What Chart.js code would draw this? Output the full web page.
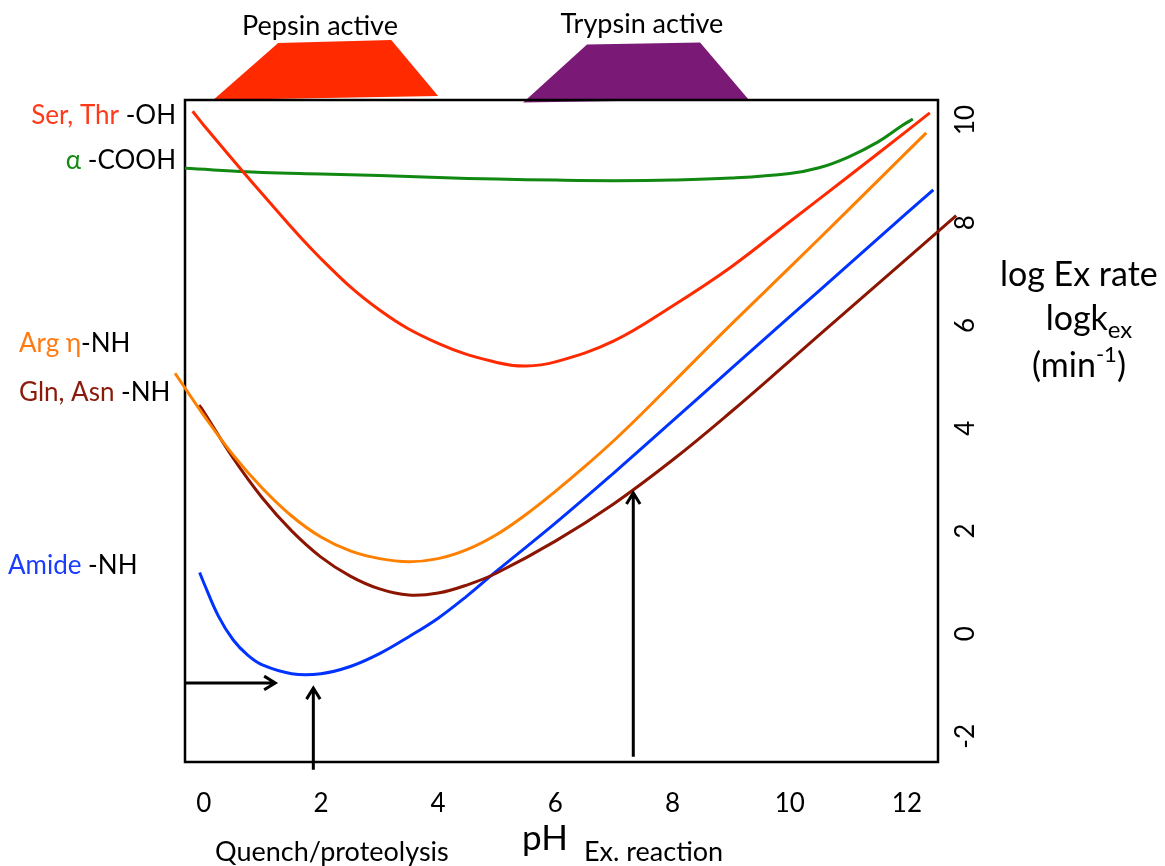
<!DOCTYPE html>
<html>
<head>
<meta charset="utf-8">
<script src="https://cdn.jsdelivr.net/npm/chart.js@4.4.1/dist/chart.umd.min.js"></script>
<style>
  html, body { margin: 0; padding: 0; background: #fff; }
  #wrap { width: 1165px; height: 866px; position: relative; }
</style>
</head>
<body>
<div id="wrap"><canvas id="c"></canvas></div>
<script>
// Axis ticks
const phTicks = [0, 2, 4, 6, 8, 10, 12];
const rateTicks = [10, 8, 6, 4, 2, 0, -2];

// Exchange-rate curves: pH vs log k_ex (min^-1)
const serThrPH   = [-0.19, 0, 1, 2, 3, 4, 5, 5.5, 6, 7, 8, 9, 10, 11, 12, 12.39];
const serThrRate = [10.17, 9.90, 8.56, 7.30, 6.30, 5.65, 5.28, 5.21, 5.29, 5.70, 6.38, 7.14, 8.02, 8.90, 9.79, 10.14];

const cooHPH   = [-0.32, 1, 2, 3, 4, 5, 6, 7, 8, 9, 10, 10.5, 11, 11.5, 11.9, 12.1];
const cooHRate = [9.06, 8.98, 8.95, 8.92, 8.88, 8.85, 8.83, 8.82, 8.83, 8.87, 8.96, 9.07, 9.28, 9.57, 9.88, 10.02];

const argPH   = [-0.49, 0, 0.5, 1, 1.5, 2, 2.5, 3, 3.5, 4, 4.5, 5, 5.5, 6, 6.5, 7, 7.5, 8, 9, 10, 11, 12, 12.33];
const argRate = [5.07, 4.25, 3.48, 2.83, 2.29, 1.88, 1.61, 1.46, 1.40, 1.46, 1.64, 1.93, 2.32, 2.77, 3.25, 3.76, 4.31, 4.88, 6.02, 7.13, 8.25, 9.38, 9.75];

const glnAsnPH   = [-0.08, 0, 0.5, 1, 1.5, 2, 2.5, 3, 3.5, 4, 4.5, 5, 6, 7, 8, 9, 10, 11, 12, 12.84];
const glnAsnRate = [4.45, 4.32, 3.42, 2.64, 2.00, 1.49, 1.12, 0.87, 0.75, 0.79, 0.95, 1.18, 1.80, 2.53, 3.38, 4.32, 5.31, 6.31, 7.30, 8.14];

const amidePH   = [-0.07, 0, 0.25, 0.5, 0.75, 1, 1.5, 2, 2.5, 3, 3.5, 4, 4.5, 5, 6, 7, 8, 9, 10, 11, 12, 12.45];
const amideRate = [1.19, 0.99, 0.34, -0.12, -0.42, -0.61, -0.78, -0.78, -0.64, -0.39, -0.06, 0.30, 0.74, 1.22, 2.15, 3.13, 4.14, 5.16, 6.17, 7.18, 8.19, 8.64];

// Enzyme activity windows (trapezoid corners, pH / log k)
const pepsinPH   = [0.16, 1.27, 3.20, 4.00];
const pepsinRate = [10.39, 11.50, 11.56, 10.47];
const trypsinPH   = [5.45, 6.54, 8.47, 9.29];
const trypsinRate = [10.34, 11.47, 11.51, 10.41];

// Arrows: [pH start, rate start, pH end, rate end]
const quenchLevel = [-0.32, -0.96, 1.22, -0.96];
const quenchPH    = [1.87, -2.65, 1.87, -1.06];
const reactionPH  = [7.33, -2.40, 7.33, 2.74];

const FONT = 'Lato, "Open Sans", sans-serif';

function pts(xs, ys) { return xs.map((x, i) => ({ x: x, y: ys[i] })); }

function series(label, xs, ys, color) {
  return {
    label: label,
    data: pts(xs, ys),
    borderColor: color,
    backgroundColor: color,
    borderWidth: 3,
    pointRadius: 0,
    tension: 0.4,
    fill: false,
    clip: false
  };
}

function drawMixed(ctx, parts, x, y, align) {
  let total = 0;
  parts.forEach(p => { total += ctx.measureText(p[0]).width; });
  let cx = align === 'right' ? x - total : (align === 'center' ? x - total / 2 : x);
  ctx.textAlign = 'left';
  parts.forEach(p => {
    ctx.fillStyle = p[1];
    ctx.fillText(p[0], cx, y);
    cx += ctx.measureText(p[0]).width;
  });
}

function arrow(ctx, xs, ys, a) {
  const x1 = xs.getPixelForValue(a[0]), y1 = ys.getPixelForValue(a[1]);
  const x2 = xs.getPixelForValue(a[2]), y2 = ys.getPixelForValue(a[3]);
  const ang = Math.atan2(y2 - y1, x2 - x1);
  const len = 13, spread = 0.55;
  ctx.beginPath();
  ctx.moveTo(x1, y1);
  ctx.lineTo(x2, y2);
  ctx.moveTo(x2 - len * Math.cos(ang - spread), y2 - len * Math.sin(ang - spread));
  ctx.lineTo(x2, y2);
  ctx.lineTo(x2 - len * Math.cos(ang + spread), y2 - len * Math.sin(ang + spread));
  ctx.stroke();
}

function trapezoid(ctx, xs, ys, phs, rates, color) {
  ctx.beginPath();
  phs.forEach((p, i) => {
    const px = xs.getPixelForValue(p), py = ys.getPixelForValue(rates[i]);
    if (i === 0) ctx.moveTo(px, py); else ctx.lineTo(px, py);
  });
  ctx.closePath();
  ctx.fillStyle = color;
  ctx.fill();
}

const decorations = {
  id: 'decorations',
  beforeDatasetsDraw(chart) {
    const { ctx, chartArea: a, scales } = chart;
    const xs = scales.x, ys = scales.y;
    ctx.save();
    // Enzyme windows above the frame
    trapezoid(ctx, xs, ys, pepsinPH, pepsinRate, '#ff2a00');
    trapezoid(ctx, xs, ys, trypsinPH, trypsinRate, '#7a1a76');
    // Frame
    ctx.strokeStyle = '#000';
    ctx.lineWidth = 2.5;
    ctx.strokeRect(a.left, a.top, a.right - a.left, a.bottom - a.top);
    ctx.restore();
  },
  afterDatasetsDraw(chart) {
    const { ctx, scales } = chart;
    const xs = scales.x, ys = scales.y;
    ctx.save();
    // Arrows
    ctx.strokeStyle = '#000';
    ctx.lineWidth = 3;
    ctx.lineCap = 'butt';
    arrow(ctx, xs, ys, quenchLevel);
    arrow(ctx, xs, ys, quenchPH);
    arrow(ctx, xs, ys, reactionPH);

    ctx.fillStyle = '#000';
    ctx.textBaseline = 'middle';
    // pH tick labels
    ctx.font = '26px ' + FONT;
    ctx.textAlign = 'center';
    phTicks.forEach(v => ctx.fillText(String(v), xs.getPixelForValue(v), 804));
    // log k tick labels, rotated
    rateTicks.forEach(v => {
      ctx.save();
      ctx.translate(966, ys.getPixelForValue(v));
      ctx.rotate(-Math.PI / 2);
      ctx.textAlign = 'center';
      ctx.fillText(String(v), 0, 0);
      ctx.restore();
    });

    // Activity window titles
    ctx.textBaseline = 'alphabetic';
    ctx.font = '27px ' + FONT;
    ctx.textAlign = 'center';
    ctx.fillText('Pepsin active', 320, 35);
    ctx.fillText('Trypsin active', 642, 33);

    // Series labels on the left
    ctx.font = '26px ' + FONT;
    drawMixed(ctx, [['Ser, Thr', '#ff3a1a'], [' -OH', '#000']], 176, 124, 'right');
    drawMixed(ctx, [['\u03b1', '#138a13'], [' -COOH', '#000']], 176, 169, 'right');
    drawMixed(ctx, [['Arg \u03b7', '#ff7a10'], ['-NH', '#000']], 19, 352, 'left');
    drawMixed(ctx, [['Gln, Asn', '#8b1a0a'], [' -NH', '#000']], 19, 401, 'left');
    drawMixed(ctx, [['Amide', '#1a3cff'], [' -NH', '#000']], 8, 574, 'left');

    // Axis titles
    ctx.fillStyle = '#000';
    ctx.textAlign = 'center';
    ctx.font = '35px ' + FONT;
    ctx.fillText('pH', 545, 850);
    ctx.font = '27px ' + FONT;
    ctx.textAlign = 'left';
    ctx.fillText('Quench/proteolysis', 215, 861);
    ctx.fillText('Ex. reaction', 584, 861);

    // Right-hand axis title
    ctx.font = '34px ' + FONT;
    ctx.textAlign = 'left';
    ctx.fillText('log Ex rate', 1000, 286);
    const base = 'logk', sub = 'ex';
    const wb = ctx.measureText(base).width;
    ctx.font = '24px ' + FONT;
    const wsub = ctx.measureText(sub).width;
    const startK = 1089 - (wb + wsub) / 2;
    ctx.font = '34px ' + FONT;
    ctx.fillText(base, startK, 330);
    ctx.font = '24px ' + FONT;
    ctx.fillText(sub, startK + wb, 338);
    // (min^-1)
    ctx.font = '22px ' + FONT;
    const wsup = ctx.measureText('-1').width;
    ctx.font = '34px ' + FONT;
    const w1 = ctx.measureText('(min').width, w3 = ctx.measureText(')').width;
    const sx = 1079 - (w1 + wsup + w3) / 2;
    ctx.fillText('(min', sx, 377);
    ctx.font = '22px ' + FONT;
    ctx.fillText('-1', sx + w1, 362);
    ctx.font = '34px ' + FONT;
    ctx.fillText(')', sx + w1 + wsup, 377);
    ctx.restore();
  }
};

new Chart(document.getElementById('c'), {
  type: 'line',
  data: {
    datasets: [
      series('Ser, Thr -OH', serThrPH, serThrRate, '#ff2a00'),
      series('\u03b1 -COOH', cooHPH, cooHRate, '#118811'),
      series('Arg \u03b7-NH', argPH, argRate, '#ff8000'),
      series('Gln, Asn -NH', glnAsnPH, glnAsnRate, '#8b1500'),
      series('Amide -NH', amidePH, amideRate, '#0033ff')
    ]
  },
  options: {
    responsive: true,
    maintainAspectRatio: false,
    animation: false,
    layout: { padding: { left: 185, right: 227, top: 100, bottom: 104 } },
    scales: {
      x: { type: 'linear', min: -0.32, max: 12.53, display: false },
      y: { type: 'linear', min: -2.5, max: 10.39, display: false }
    },
    plugins: {
      legend: { display: false },
      tooltip: { enabled: false }
    }
  },
  plugins: [decorations]
});
</script>
</body>
</html>
